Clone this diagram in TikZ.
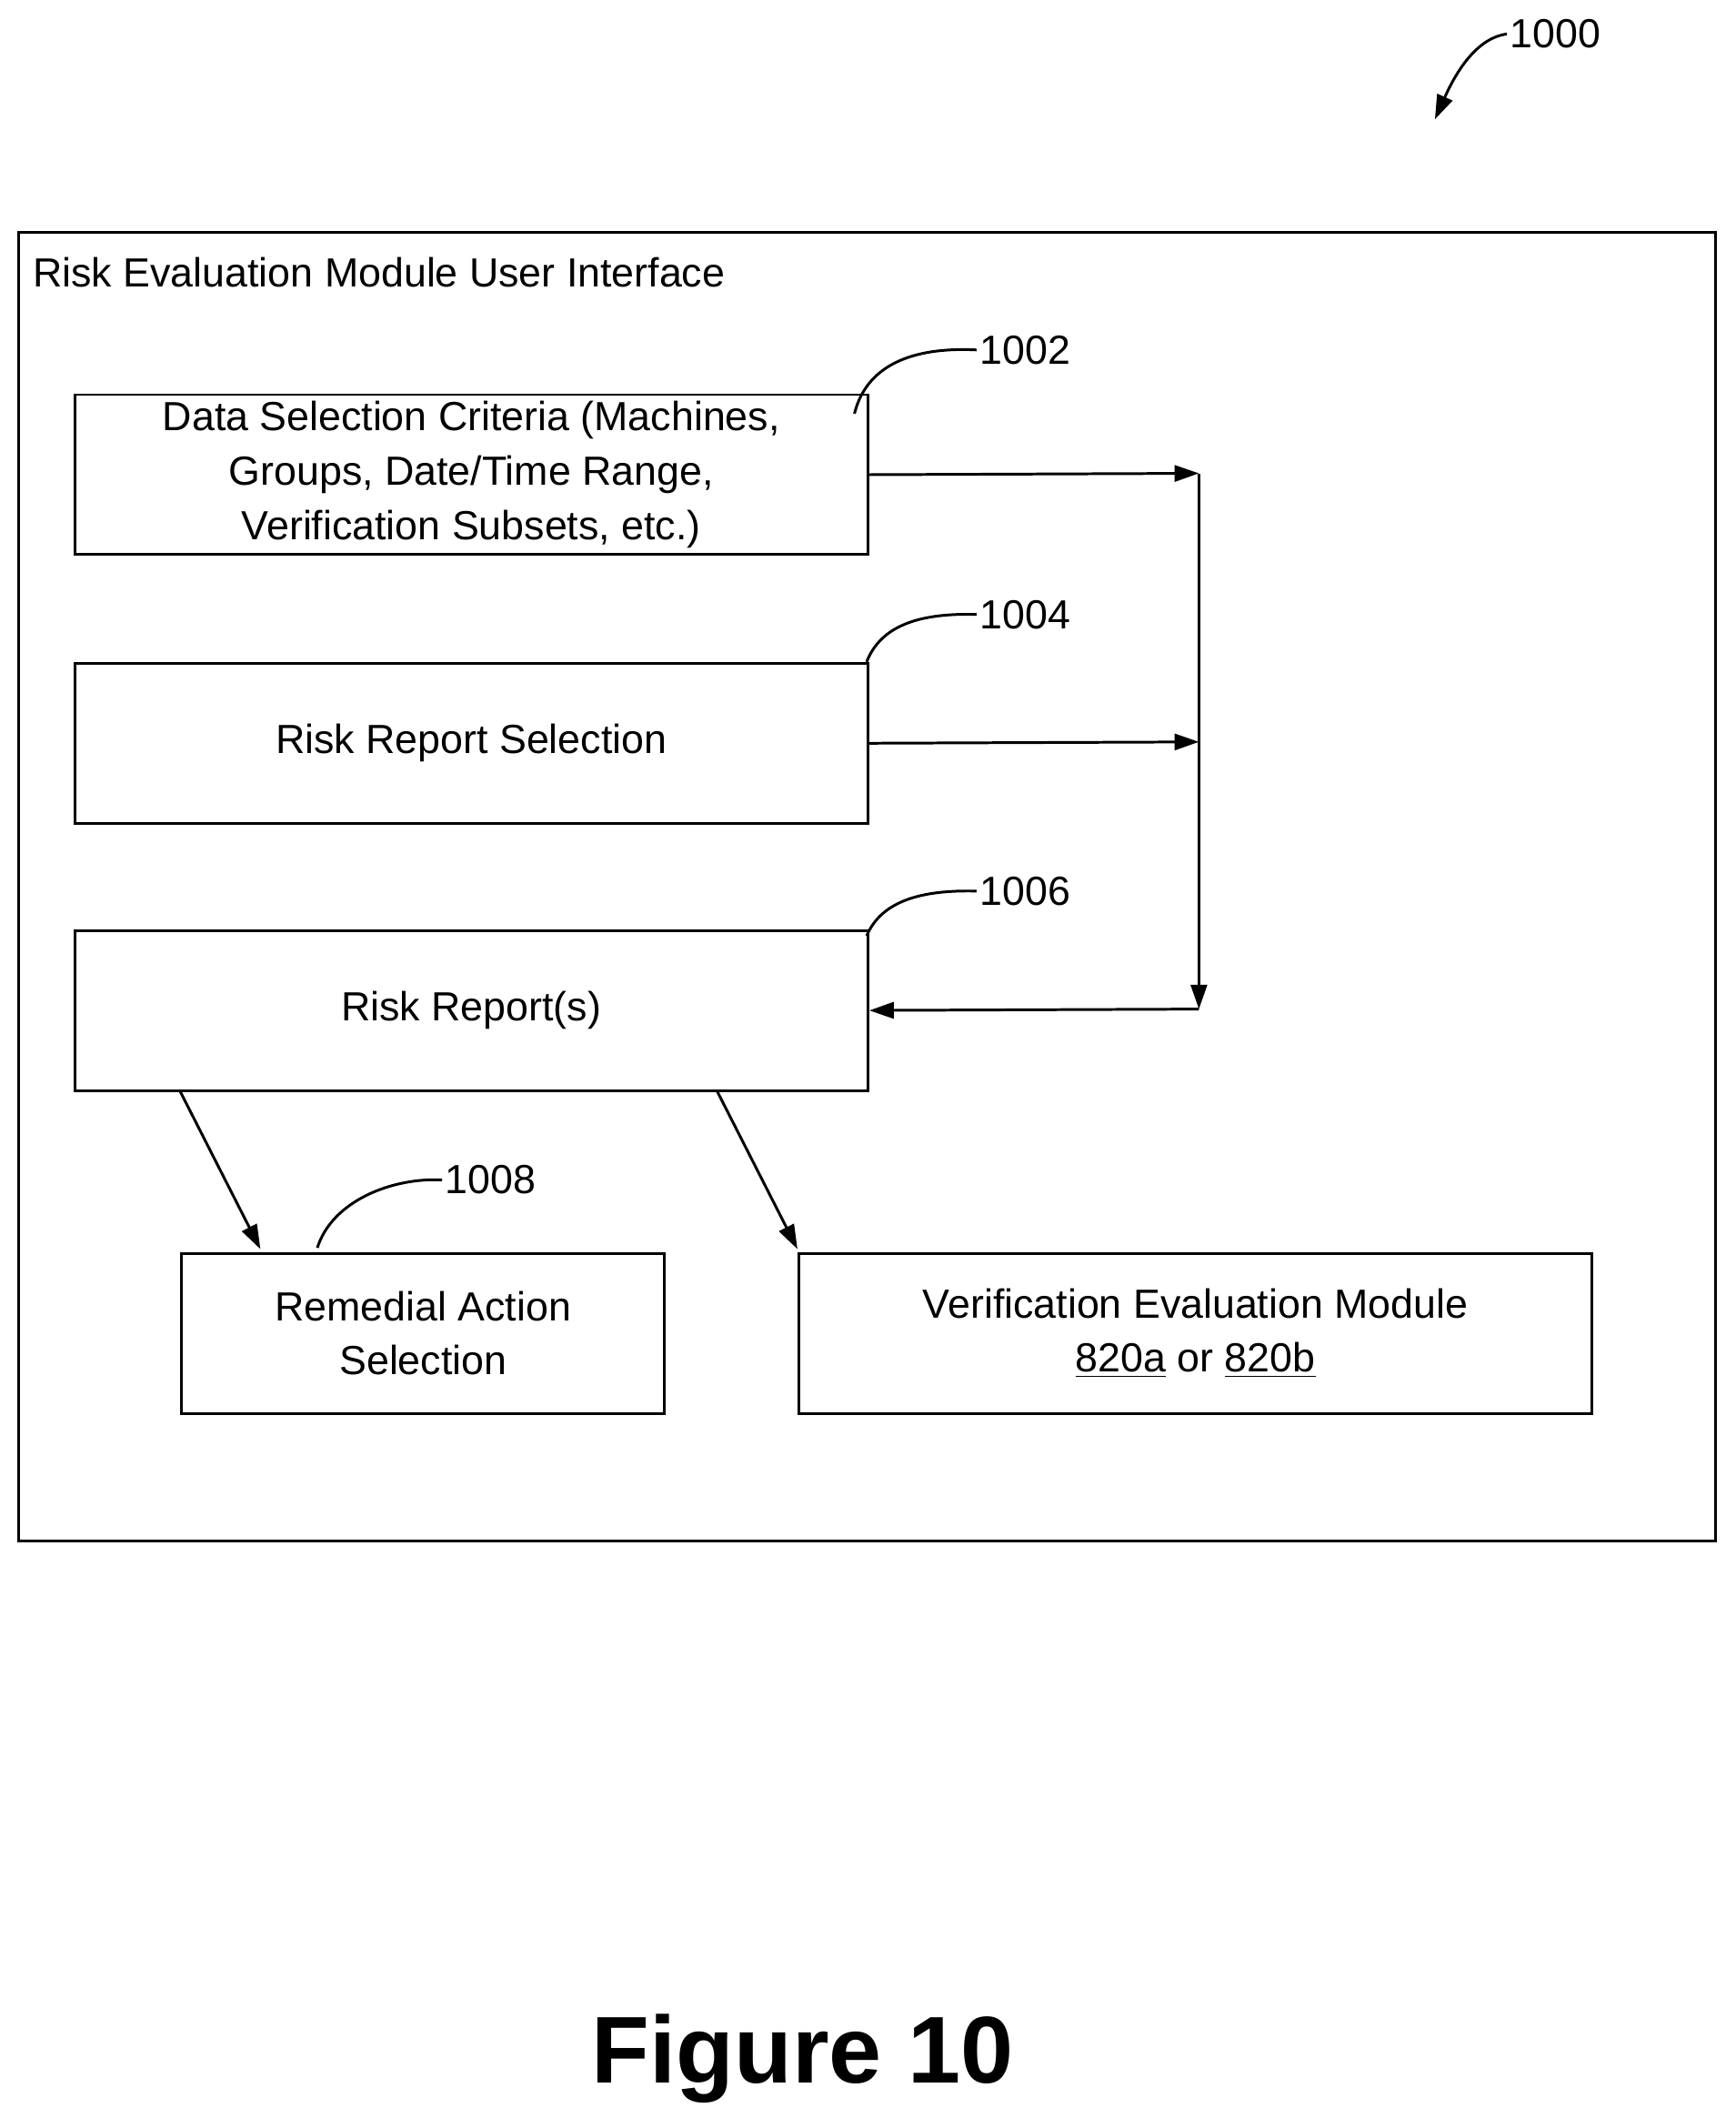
\documentclass[tikz,border=0pt]{standalone}
\usepackage{fontspec}
\setmainfont{Liberation Sans}
\usetikzlibrary{arrows.meta}
\begin{document}
\begin{tikzpicture}[x=0.5pt,y=-0.5pt,
  box/.style={draw,line width=1pt,inner sep=0pt,anchor=north west,align=center,font=\fontsize{15}{20}\selectfont},
  arr/.style={line width=1pt,-{Triangle[length=9pt,width=6pt]}},
  lbl/.style={font=\fontsize{15}{18}\selectfont,anchor=west,inner sep=1pt},
  lead/.style={line width=1pt}]
\useasboundingbox (0,0) rectangle (1280,1569);
\draw[line width=1pt] (14,171) rectangle (1265,1136);
\node[lbl,anchor=west] (title) at (22,201) {Risk Evaluation Module User Interface};
\node[box,minimum width=292.5pt,minimum height=59pt] (b1) at (54,290) {Data Selection Criteria (Machines,\\Groups, Date/Time Range,\\Verification Subsets, etc.)};
\node[box,minimum width=292.5pt,minimum height=59pt] (b2) at (54,488) {Risk Report Selection};
\node[box,minimum width=292.5pt,minimum height=59pt] (b3) at (54,685) {Risk Report(s)};
\node[box,minimum width=178pt,minimum height=59pt] (b4) at (133,923) {Remedial Action\\Selection};
\node[box,minimum width=292.5pt,minimum height=59pt] (b5) at (588,923) {Verification Evaluation Module\\\underline{820a} or \underline{820b}};
\coordinate (j1) at (884,349);
\coordinate (j2) at (884,547);
\coordinate (j3) at (884,744);
\draw[arr] (b1.east) -- (j1);
\draw[arr] (b2.east) -- (j2);
\draw[arr] (j1) -- (j3);
\draw[arr] (j3) -- (b3.east);
\coordinate (s4) at (133,805); \coordinate (e4) at (192,921);
\coordinate (s5) at (529,805); \coordinate (e5) at (588,921);
\draw[arr] (s4) -- (e4);
\draw[arr] (s5) -- (e5);
\node[lbl] (l1002) at (720,258) {1002};
\node[lbl] (l1004) at (720,453) {1004};
\node[lbl] (l1006) at (720,657) {1006};
\node[lbl] (l1008) at (326,870) {1008};
\node[lbl] (l1000) at (1111,25) {1000};
\draw[lead] (630,305) .. controls (640,265) and (680,256) .. (l1002.west);
\draw[lead] (639,488) .. controls (650,460) and (680,452) .. (l1004.west);
\draw[lead] (639,690) .. controls (650,664) and (680,656) .. (l1006.west);
\draw[lead] (234,920) .. controls (245,885) and (290,868) .. (l1008.west);
\coordinate (t1000) at (1058,88);
\draw[arr] (l1000.west) .. controls (1090,28) and (1075,50) .. (t1000);
\node[font=\bfseries\fontsize{35}{40}\selectfont] (fig) at (592,1518) {Figure 10};
\end{tikzpicture}
\end{document}
